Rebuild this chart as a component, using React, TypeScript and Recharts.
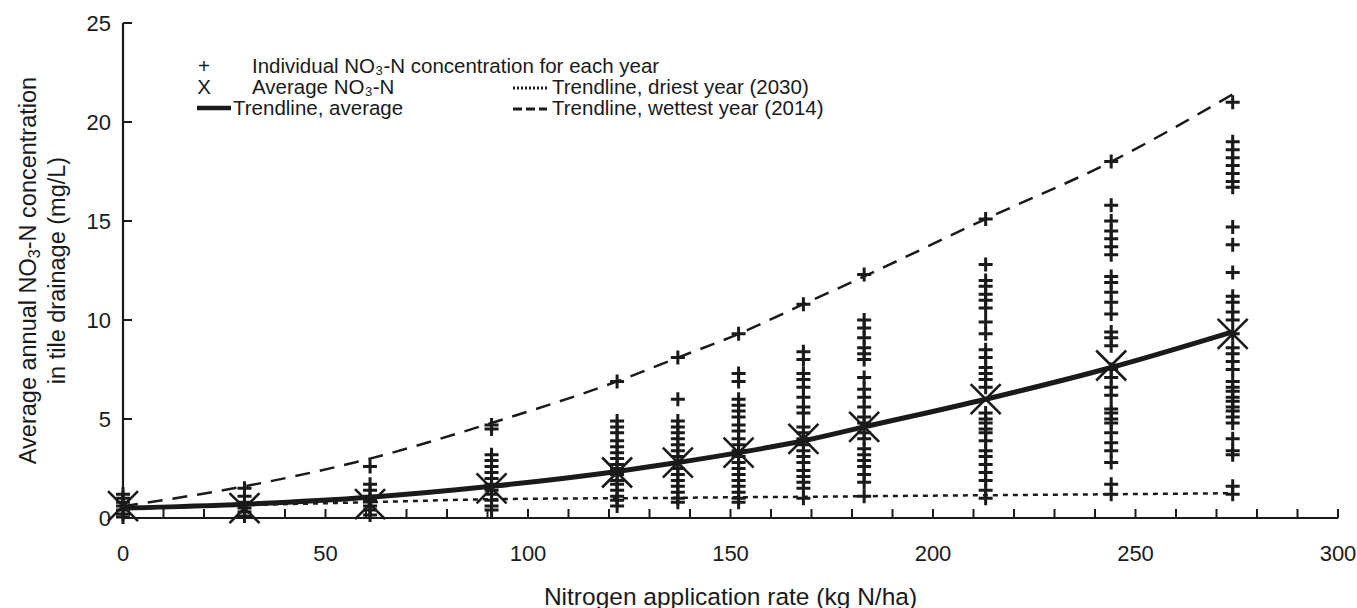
import React from 'react';
import { ComposedChart, Line, Scatter, XAxis, YAxis } from 'recharts';

// N application rates (kg N/ha)
const rates = [0, 30, 61, 91, 122, 137, 152, 168, 183, 213, 244, 274];

// individual yearly NO3-N values per rate
const obs0 = [1.2, 1.0, 0.8, 0.6, 0.4, 0.2, 0.05];
const obs30 = [1.5, 1.1, 0.8, 0.5, 0.3, 0.1];
const obs61 = [2.6, 1.7, 1.4, 1.1, 0.9, 0.6, 0.4, 0.15];
const obs91 = [4.7, 4.5, 3.2, 2.9, 2.6, 2.3, 2.0, 1.7, 1.4, 1.2, 0.9, 0.6, 0.4];
const obs122 = [6.9, 4.9, 4.6, 4.3, 3.9, 3.6, 3.3, 3.0, 2.7, 2.5, 2.2, 1.9, 1.7, 1.4, 1.1, 0.9, 0.6];
const obs137 = [8.1, 6.0, 4.9, 4.6, 4.3, 4.0, 3.7, 3.4, 3.1, 2.8, 2.5, 2.2, 1.9, 1.6, 1.3, 1.0, 0.8];
const obs152 = [9.3, 7.3, 6.9, 6.0, 5.7, 5.4, 5.1, 4.7, 4.4, 4.0, 3.7, 3.4, 3.1, 2.8, 2.5, 2.2, 1.9, 1.6, 1.3, 1.0, 0.8];
const obs168 = [10.8, 8.4, 8.0, 7.3, 7.0, 6.6, 6.1, 5.6, 5.3, 4.6, 4.3, 4.0, 3.7, 3.4, 3.1, 2.8, 2.4, 2.1, 1.8, 1.5, 1.0];
const obs183 = [12.3, 10.0, 9.6, 9.1, 8.6, 8.3, 8.0, 7.1, 6.5, 6.1, 5.6, 5.1, 4.8, 4.3, 4.0, 3.5, 3.2, 2.9, 2.6, 2.2, 1.8, 1.1];
const obs213 = [15.1, 12.8, 12.0, 11.7, 11.3, 11.0, 10.6, 9.9, 9.3, 8.5, 8.1, 7.6, 7.3, 7.0, 6.6, 5.3, 5.0, 4.8, 4.5, 4.3, 3.9, 3.4, 3.1, 2.7, 2.3, 1.9, 1.4, 1.0];
const obs244 = [18.0, 15.8, 15.0, 14.5, 14.1, 13.7, 13.3, 12.2, 11.9, 11.4, 10.9, 10.3, 9.4, 9.1, 8.7, 7.5, 7.1, 6.6, 6.2, 5.5, 5.3, 5.0, 4.8, 4.3, 3.8, 3.4, 2.8, 1.7, 1.2];
const obs274 = [21.0, 19.0, 18.6, 18.2, 17.8, 17.4, 17.0, 16.7, 14.7, 13.8, 12.4, 11.2, 10.9, 10.4, 10.0, 9.3, 8.6, 8.3, 7.9, 7.5, 6.9, 6.6, 6.4, 6.1, 5.9, 5.6, 5.4, 5.1, 4.8, 4.0, 3.4, 3.2, 1.6, 1.2];
const observed = [obs0, obs30, obs61, obs91, obs122, obs137, obs152, obs168, obs183, obs213, obs244, obs274];

const averages = [0.6, 0.5, 0.7, 1.5, 2.3, 2.8, 3.3, 4.0, 4.6, 6.0, 7.7, 9.3];
const trendAvg = [0.5, 0.7, 1.05, 1.6, 2.35, 2.8, 3.3, 3.9, 4.6, 6.0, 7.6, 9.4];
const trendWet = [0.6, 1.6, 3.0, 4.8, 6.9, 8.1, 9.3, 10.8, 12.2, 15.1, 18.0, 21.4];
const trendDry = [0.5, 0.65, 0.8, 0.95, 1.0, 1.02, 1.05, 1.07, 1.1, 1.15, 1.2, 1.25];

const xTicks = [0, 10, 20, 30, 40, 50, 60, 70, 80, 90, 100, 110, 120, 130, 140, 150, 160, 170, 180, 190, 200, 210, 220, 230, 240, 250, 260, 270, 280, 290, 300];
const yTicks = [0, 5, 10, 15, 20, 25];

const pointData = rates.flatMap((r, i) => observed[i].map((v) => ({ x: r, y: v })));
const avgData = rates.map((r, i) => ({ x: r, y: averages[i] }));
const toSeries = (vals: number[]) => rates.map((r, i) => ({ x: r, y: vals[i] }));

const INK = '#1a1a1a';
const FONT = '"Liberation Sans", Arial, sans-serif';

const PlusMark = (props: any) => {
  const { cx, cy } = props;
  return (
    <path d={`M${cx - 7},${cy}H${cx + 7}M${cx},${cy - 7}V${cy + 7}`} stroke={INK} strokeWidth={3} fill="none" />
  );
};

const CrossMark = (props: any) => {
  const { cx, cy } = props;
  const s = 15;
  return (
    <path d={`M${cx - s},${cy - s}L${cx + s},${cy + s}M${cx - s},${cy + s}L${cx + s},${cy - s}`} stroke={INK} strokeWidth={2.6} fill="none" />
  );
};

const XTick = (props: any) => {
  const { x, y, payload } = props;
  const v = payload.value;
  return (
    <g>
      <line x1={x} x2={x} y1={y} y2={y - 9} stroke={INK} strokeWidth={2} />
      {v % 50 === 0 && (
        <text x={x} y={y + 35} textAnchor="middle" dominantBaseline="central" fontSize={22} fontFamily={FONT} fill={INK}>
          {v}
        </text>
      )}
    </g>
  );
};

const YTick = (props: any) => {
  const { x, y, payload } = props;
  return (
    <g>
      <line x1={x} x2={x + 9} y1={y} y2={y} stroke={INK} strokeWidth={2} />
      <text x={x - 12} y={y} textAnchor="end" dominantBaseline="central" fontSize={22} fontFamily={FONT} fill={INK}>
        {payload.value}
      </text>
    </g>
  );
};

const YTitle = (props: any) => {
  const vb = props.viewBox;
  const cy = vb.y + vb.height / 2;
  const x1 = vb.x - 35;
  const x2 = vb.x - 6;
  return (
    <g fontSize={23.5} fontFamily={FONT} fill={INK}>
      <text x={x1} y={cy} textAnchor="middle" dominantBaseline="central" transform={`rotate(-90, ${x1}, ${cy})`}>
        Average annual NO<tspan dy={6} fontSize={16}>3</tspan>
        <tspan dy={-6}>-N concentration</tspan>
      </text>
      <text x={x2} y={cy} textAnchor="middle" dominantBaseline="central" transform={`rotate(-90, ${x2}, ${cy})`}>
        in tile drainage (mg/L)
      </text>
    </g>
  );
};

const XTitle = (props: any) => {
  const vb = props.viewBox;
  return (
    <text x={vb.x + vb.width / 2} y={vb.y + 78} textAnchor="middle" dominantBaseline="central" fontSize={24.5} fontFamily={FONT} fill={INK}>
      Nitrogen application rate (kg N/ha)
    </text>
  );
};

const rowStyle = (cy: number, left: number): React.CSSProperties => ({
  position: 'absolute',
  top: cy - 10,
  left,
  height: 20,
  lineHeight: '20px',
  whiteSpace: 'nowrap',
});

const LegendSample = ({ cy, left, dash, width }: { cy: number; left: number; dash?: string; width: number }) => (
  <svg style={{ position: 'absolute', top: cy - 5, left }} width={36} height={10}>
    <line x1={0} x2={34} y1={5} y2={5} stroke={INK} strokeWidth={width} strokeDasharray={dash} />
  </svg>
);

const ChartLegend = () => (
  <div style={{ position: 'absolute', left: 0, top: 0, fontFamily: FONT, fontSize: 20.5, color: INK }}>
    <div style={{ ...rowStyle(66, 196), width: 16, textAlign: 'center' }}>+</div>
    <div style={rowStyle(66, 252)}>Individual NO₃-N concentration for each year</div>
    <div style={{ ...rowStyle(87, 196), width: 16, textAlign: 'center' }}>X</div>
    <div style={rowStyle(87, 252)}>Average NO₃-N</div>
    <LegendSample cy={108} left={197} width={4.5} />
    <div style={rowStyle(108, 233)}>Trendline, average</div>
    <LegendSample cy={88} left={513} width={3} dash="2 2" />
    <div style={rowStyle(87, 552)}>Trendline, driest year (2030)</div>
    <LegendSample cy={109} left={513} width={3} dash="9 4" />
    <div style={rowStyle(108, 552)}>Trendline, wettest year (2014)</div>
  </div>
);

export default function App() {
  return (
    <div style={{ position: 'absolute', left: 0, top: 0, width: 1357, height: 608, background: '#fff' }}>
      <ComposedChart width={1357} height={608} margin={{ top: 23, right: 19, bottom: 0, left: 63 }}>
        <XAxis
          type="number"
          dataKey="x"
          domain={[0, 300]}
          ticks={xTicks}
          interval={0}
          height={90}
          tickSize={0}
          tickMargin={0}
          tickLine={false}
          axisLine={{ stroke: INK, strokeWidth: 2.2 }}
          tick={<XTick />}
          label={{ content: XTitle } as any}
        />
        <YAxis
          type="number"
          dataKey="y"
          domain={[0, 25]}
          ticks={yTicks}
          interval={0}
          width={60}
          tickSize={0}
          tickMargin={0}
          tickLine={false}
          axisLine={{ stroke: INK, strokeWidth: 2.2 }}
          tick={<YTick />}
          label={{ content: YTitle } as any}
        />
        <Scatter data={pointData} shape={<PlusMark />} isAnimationActive={false} />
        <Line data={toSeries(trendWet)} dataKey="y" type="monotone" stroke={INK} strokeWidth={2.5} strokeDasharray="15 10" dot={false} activeDot={false} isAnimationActive={false} />
        <Line data={toSeries(trendDry)} dataKey="y" type="monotone" stroke={INK} strokeWidth={2.5} strokeDasharray="5 5" dot={false} activeDot={false} isAnimationActive={false} />
        <Line data={toSeries(trendAvg)} dataKey="y" type="monotone" stroke={INK} strokeWidth={5} dot={false} activeDot={false} isAnimationActive={false} />
        <Scatter data={avgData} shape={<CrossMark />} isAnimationActive={false} />
      </ComposedChart>
      <ChartLegend />
    </div>
  );
}
